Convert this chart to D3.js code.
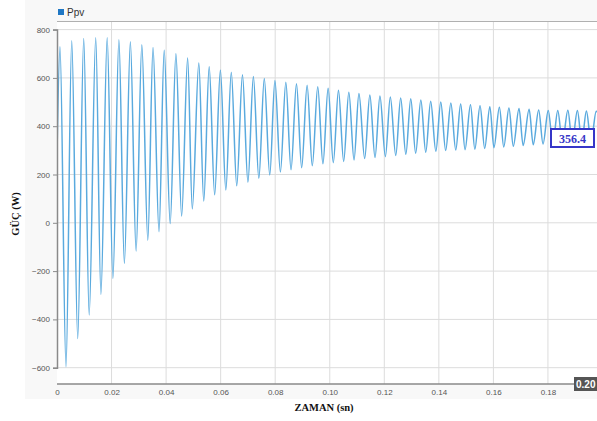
<!DOCTYPE html>
<html><head><meta charset="utf-8">
<script src="https://cdn.jsdelivr.net/npm/d3@7"></script>
<style>body{margin:0;background:#fff;overflow:hidden}</style>
</head><body>
<svg id="c" width="597" height="421"></svg>
<script>
const seriesName = "Ppv";
const xTicks = [0, 0.02, 0.04, 0.06, 0.08, 0.10, 0.12, 0.14, 0.16, 0.18];
const xTickLabels = ["0", "0.02", "0.04", "0.06", "0.08", "0.10", "0.12", "0.14", "0.16", "0.18"];
const yTicks = [-600, -400, -200, 0, 200, 400, 600, 800];
const startPoint = [0, 280];
const endPoint = [0.2, 356.4];
const peakTimes = [0.0011,0.0054,0.0098,0.0142,0.0184,0.0227,0.0269,0.0311,0.0352,0.0393,0.0436,0.0479,0.0520,0.0558,0.0599,0.0639,0.0680,0.0720,0.0760,0.0799,0.0839,0.0878,0.0917,0.0956,0.0994,0.1032,0.1070,0.1107,0.1147,0.1184,0.1222,0.1260,0.1297,0.1334,0.1370,0.1407,0.1444,0.1480,0.1516,0.1551,0.1587,0.1622,0.1657,0.1694,0.1731,0.1766,0.1801,0.1836,0.1873,0.1908,0.1941,0.1977];
const peakValues = [729,754,763,766,766,758,750,737,726,714,700,682,662,646,633,623,613,606,598,589,582,576,570,563,557,549,541,535,529,525,521,517,514,509,503,500,496,492,489,485,481,478,475,473,470,467,465,465,466,465,463,462];
const troughTimes = [0.0033,0.0076,0.0118,0.0161,0.0205,0.0247,0.0290,0.0333,0.0374,0.0415,0.0457,0.0496,0.0538,0.0578,0.0619,0.0659,0.0700,0.0740,0.0780,0.0819,0.0858,0.0897,0.0936,0.0975,0.1013,0.1051,0.1089,0.1128,0.1166,0.1204,0.1242,0.1279,0.1315,0.1352,0.1389,0.1425,0.1462,0.1496,0.1532,0.1568,0.1602,0.1638,0.1673,0.1709,0.1746,0.1782,0.1818,0.1853,0.1889,0.1924,0.1958];
const troughValues = [-596,-479,-382,-296,-230,-168,-117,-72,-37,-3,28,58,90,116,136,153,168,184,198,210,220,228,236,244,249,254,260,266,270,274,279,284,288,292,296,299,301,303,305,308,311,314,317,320,323,326,328,330,332,334,336];
const cursorLabel = "0.20";
const valueLabel = "356.4";

const pts = [startPoint]
  .concat(peakTimes.map((t,i)=>[t, peakValues[i]]))
  .concat(troughTimes.map((t,i)=>[t, troughValues[i]]))
  .concat([endPoint])
  .sort((a,b)=>a[0]-b[0]);

const svg = d3.select("#c");
const L = 57, R = 602.5, T = 21, B = 384;
const x = d3.scaleLinear().domain([0, 0.2]).range([L, R]);
const y = d3.scaleLinear().domain([-600, 800]).range([367.7, 29.6]);

// panel background
svg.append("rect").attr("x",25).attr("y",0).attr("width",572).attr("height",399).attr("fill","#f8f8f8");
svg.append("rect").attr("x",L).attr("y",T).attr("width",600-L).attr("height",B-T).attr("fill","#fff");

// grid
svg.append("g").selectAll("line").data(yTicks).join("line")
  .attr("x1",L).attr("x2",600).attr("y1",d=>y(d)).attr("y2",d=>y(d))
  .attr("stroke","#dcdcdc").attr("stroke-width",1);
svg.append("g").selectAll("line").data(xTicks.slice(1)).join("line")
  .attr("y1",T).attr("y2",B).attr("x1",d=>x(d)).attr("x2",d=>x(d))
  .attr("stroke","#dcdcdc").attr("stroke-width",1);
svg.append("line").attr("x1",L).attr("x2",600).attr("y1",T+0.5).attr("y2",T+0.5).attr("stroke","#b0b0b0");

// line
svg.append("clipPath").attr("id","clip").append("rect").attr("x",L).attr("y",T).attr("width",600-L).attr("height",B-T);
const line = d3.line().x(d=>x(d[0])).y(d=>y(d[1])).curve(d3.curveMonotoneX);
svg.append("path").datum(pts).attr("d",line).attr("fill","none")
  .attr("stroke","#5aaade").attr("stroke-width",1.5).attr("clip-path","url(#clip)");

// axes
const yAxis = svg.append("g").attr("transform",`translate(${L},0)`)
  .call(d3.axisLeft(y).tickValues(yTicks).tickSize(4).tickPadding(3).tickFormat(d3.format("d")));
const xAxis = svg.append("g").attr("transform",`translate(0,${B})`)
  .call(d3.axisBottom(x).tickValues(xTicks).tickSize(0).tickPadding(5).tickFormat((d,i)=>xTickLabels[i]));
[yAxis, xAxis].forEach(g=>{
  g.select(".domain").attr("stroke","#8a8a8a").attr("stroke-width",1.5);
  g.selectAll(".tick line").attr("stroke","#8a8a8a");
  g.selectAll("text").attr("fill","#555").style("font-family","Liberation Sans, Arial, sans-serif").style("font-size","8px");
});
xAxis.select(".domain").attr("d",`M${L},0H600`);

// cursor label at right of x axis
svg.append("rect").attr("x",574).attr("y",377).attr("width",26).attr("height",14).attr("fill","#555");
svg.append("text").attr("x",576).attr("y",388).text(cursorLabel)
  .attr("fill","#fff").style("font-family","Liberation Sans, Arial, sans-serif").style("font-size","10px").style("font-weight","bold");

// value box
svg.append("rect").attr("x",551).attr("y",129).attr("width",43).attr("height",18)
  .attr("fill","#fff").attr("stroke","#3636c8").attr("stroke-width",2);
svg.append("text").attr("x",572.5).attr("y",142.5).attr("text-anchor","middle").text(valueLabel)
  .attr("fill","#3636c8").style("font-family","Liberation Serif, Times New Roman, serif").style("font-size","12px").style("font-weight","bold");

// legend
svg.append("rect").attr("x",58).attr("y",9).attr("width",6).attr("height",6).attr("fill","#1f77c4");
svg.append("text").attr("x",67).attr("y",15.5).text(seriesName)
  .attr("fill","#333").style("font-family","Liberation Sans, Arial, sans-serif").style("font-size","10px");

// axis titles
svg.append("text").attr("transform","translate(19,214) rotate(-90)").attr("text-anchor","middle").text("GÜÇ (W)")
  .attr("fill","#111").style("font-family","Liberation Serif, Times New Roman, serif").style("font-size","10.5px").style("font-weight","bold");
svg.append("text").attr("x",324).attr("y",411).attr("text-anchor","middle").text("ZAMAN (sn)")
  .attr("fill","#111").style("font-family","Liberation Serif, Times New Roman, serif").style("font-size","10.5px").style("font-weight","bold");
</script>
</body></html>
